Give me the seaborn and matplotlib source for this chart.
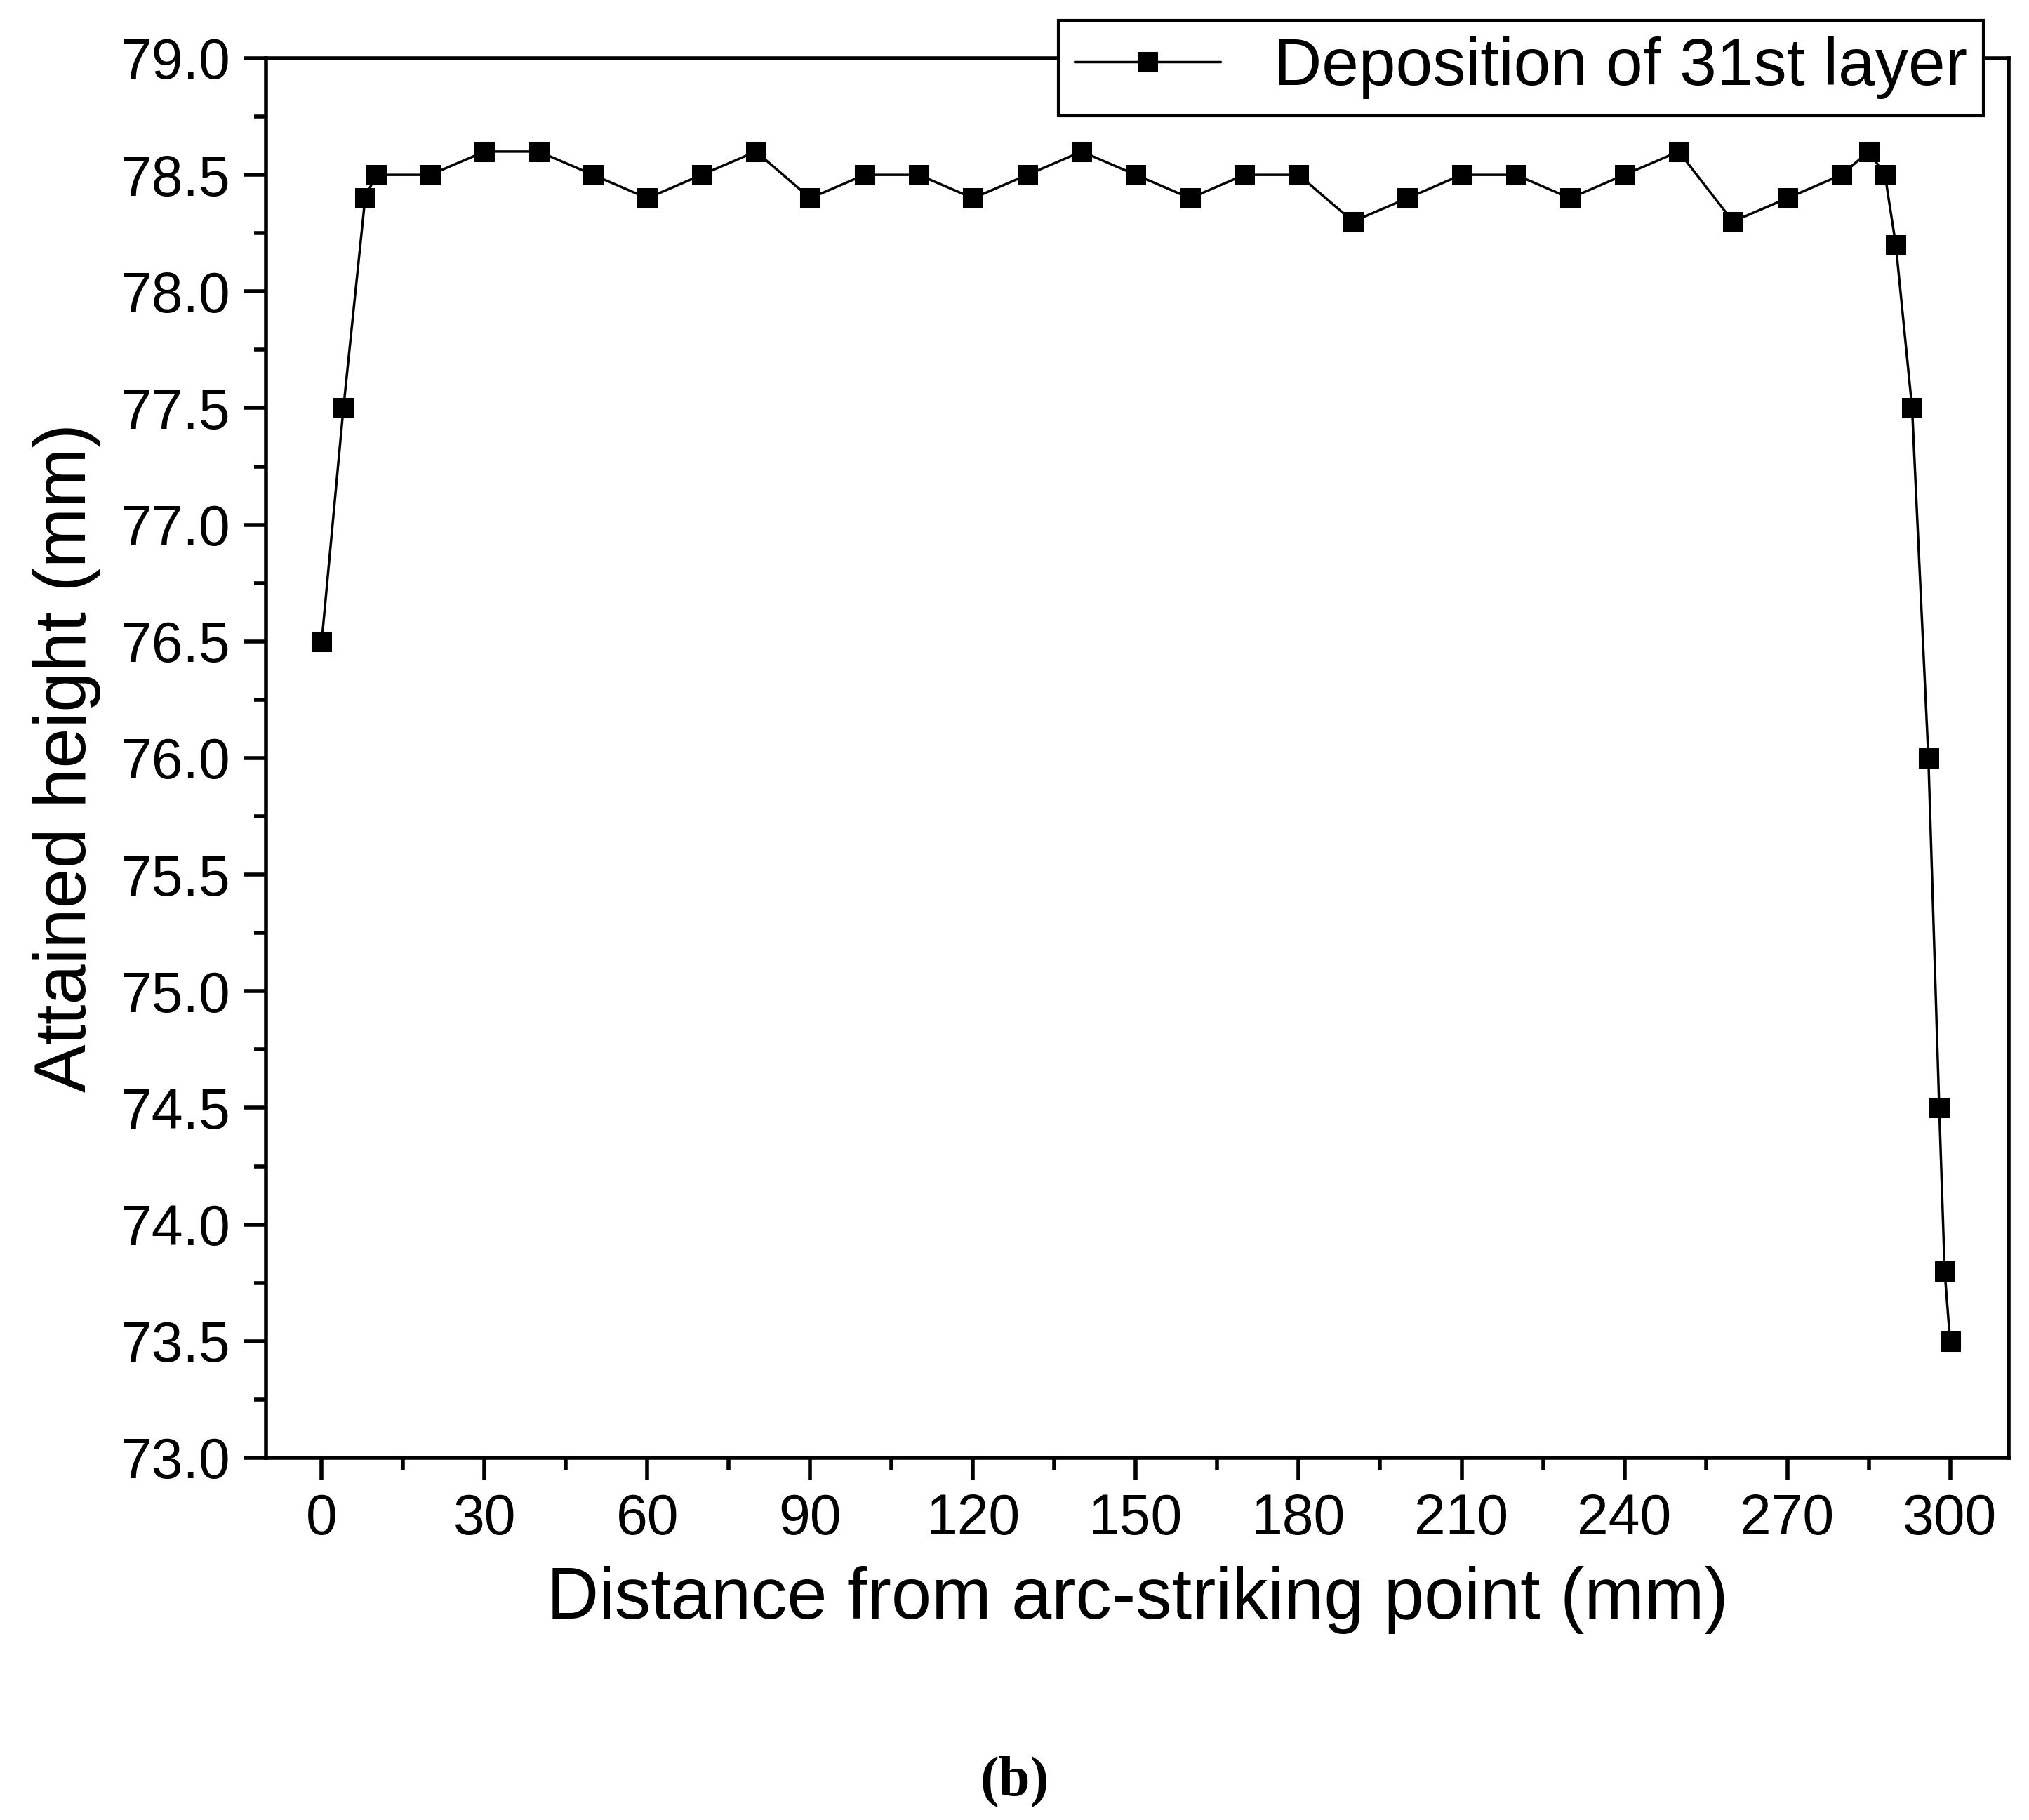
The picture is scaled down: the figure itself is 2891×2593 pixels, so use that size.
import matplotlib.pyplot as plt
import pandas as pd
import seaborn as sns
from matplotlib.ticker import MultipleLocator

distance = [0, 4, 8, 10, 20, 30, 40, 50, 60, 70, 80, 90, 100, 110, 120, 130, 140,
            150, 160, 170, 180, 190, 200, 210, 220, 230, 240, 250, 260, 270, 280,
            285, 288, 290, 293, 296, 298, 299, 300]
height = [76.5, 77.5, 78.4, 78.5, 78.5, 78.6, 78.6, 78.5, 78.4, 78.5, 78.6, 78.4,
          78.5, 78.5, 78.4, 78.5, 78.6, 78.5, 78.4, 78.5, 78.5, 78.3, 78.4, 78.5,
          78.5, 78.4, 78.5, 78.6, 78.3, 78.4, 78.5, 78.6, 78.5, 78.2, 77.5, 76.0,
          74.5, 73.8, 73.5]

df = pd.DataFrame({"distance": distance, "height": height})

sns.set_style("ticks")
plt.rcParams["font.family"] = ["Liberation Sans", "DejaVu Sans"]
plt.rcParams["text.color"] = "black"
plt.rcParams["axes.labelcolor"] = "black"
plt.rcParams["xtick.color"] = "black"
plt.rcParams["ytick.color"] = "black"

fig = plt.figure(figsize=(28.91, 25.93), dpi=100)
ax = fig.add_axes([0.131, 0.199, 0.859, 0.769])
sns.lineplot(data=df, x="distance", y="height", ax=ax, color="black", lw=2.5,
             marker="s", markersize=20, markeredgecolor="black",
             label="Deposition of 31st layer")

ax.set_xlim(-10.3, 310.8)
ax.set_ylim(73.0, 79.0)
ax.xaxis.set_major_locator(MultipleLocator(30))
ax.xaxis.set_minor_locator(MultipleLocator(15))
ax.yaxis.set_major_locator(MultipleLocator(0.5))
ax.yaxis.set_minor_locator(MultipleLocator(0.25))
ax.yaxis.set_major_formatter(plt.FormatStrFormatter("%.1f"))
ax.tick_params(which="major", direction="out", length=22, width=4, labelsize=58, pad=14)
ax.tick_params(which="minor", direction="out", length=12, width=4)
for s in ax.spines.values():
    s.set_linewidth(4)
    s.set_color("black")

ax.set_xlabel("Distance from arc-striking point (mm)", fontsize=74, labelpad=20)
ax.set_ylabel("Attained height (mm)", fontsize=74, labelpad=20)

leg = ax.legend(loc="upper right", bbox_to_anchor=(0.9776, 0.989),
                bbox_transform=fig.transFigure, borderaxespad=0,
                fontsize=68, frameon=True, fancybox=False, framealpha=1,
                handlelength=2.2, borderpad=0.25)
leg.get_frame().set_edgecolor("black")
leg.get_frame().set_linewidth(3)

fig.text(0.5, 0.021, "(b)", ha="center", va="center", fontsize=58,
         family=["Liberation Serif", "DejaVu Serif"], weight="bold")

fig.savefig("out.png")
